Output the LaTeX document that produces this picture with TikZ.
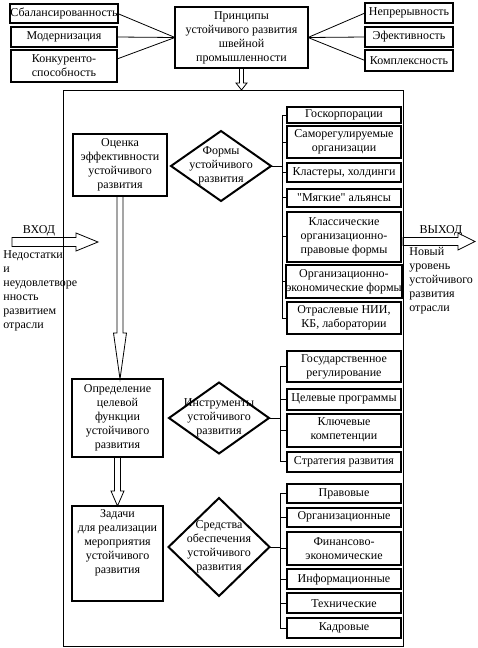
\documentclass[tikz,border=0pt]{standalone}
\usepackage{fontspec}
\setmainfont{Liberation Serif}
\usetikzlibrary{shapes.geometric, calc}

% hohle Pfeile: Start, Ziel, halbe Schaftbreite, halbe Kopfbreite, Kopflaenge
\newcommand{\hollowdown}[5]{%
  \draw let \p1=(#1), \p2=(#2) in
    (\x1-#3,\y1) -- (\x1-#3,\y2+#5) -- (\x1-#4,\y2+#5) -- (\x1,\y2)
    -- (\x1+#4,\y2+#5) -- (\x1+#3,\y2+#5) -- (\x1+#3,\y1);}
\newcommand{\hollowright}[5]{%
  \draw let \p1=(#1), \p2=(#2) in
    (\x1,\y1+#3) -- (\x2-#5,\y1+#3) -- (\x2-#5,\y1+#4) -- (\x2,\y1)
    -- (\x2-#5,\y1-#4) -- (\x2-#5,\y1-#3) -- (\x1,\y1-#3) -- cycle;}

\begin{document}
\begin{tikzpicture}[x=1pt, y=-1pt, line width=0.8pt,
    font=\fontsize{12}{14}\selectfont,
    block/.style={draw, line width=2pt, inner sep=0pt, outer sep=0pt, align=center},
    leftblock/.style={block, minimum width=106pt},
    rightblock/.style={block, minimum width=88pt},
    sideblock/.style={block, minimum width=114pt},
    romb/.style={draw, diamond, line width=2pt, inner sep=-20pt, outer sep=0pt, align=center}]
        \useasboundingbox (0,0) rectangle (478,648);
        % Rahmen
        \node[draw, minimum width=340pt, minimum height=556pt, inner sep=0pt, outer sep=0pt] (frame) at (233,368) {};
        % Prinzipien
        \node[block, minimum width=133pt, minimum height=61pt] (princ) at (241.5,37.5)
          {Принципы\\устойчивого развития\\швейной\\промышленности};
        \node[leftblock, minimum height=19pt] (bal) at (64,13.5) {Сбалансированность};
        \node[leftblock, minimum height=20pt] (mod) at (64,37) {Модернизация};
        \node[leftblock, minimum height=32pt] (konk) at (64,66) {Конкуренто-\\способность};
        \node[rightblock, minimum height=20pt] (nepr) at (409,13) {Непрерывность};
        \node[rightblock, minimum height=20pt] (eff) at (409,37) {Эфективность};
        \node[rightblock, minimum height=21pt] (kompl) at (409,60.5) {Комплексность};
        \draw (bal.east) -- (princ.west);
        \draw (mod.east) -- (princ.west);
        \draw ([yshift=7pt]konk.east) -- (princ.west);
        \draw (princ.east) -- (nepr.west);
        \draw (princ.east) -- (eff.west);
        \draw (princ.east) -- (kompl.west);
        \hollowdown{princ.south}{princ.south |- frame.north}{2pt}{5.5pt}{7pt}
        % linke Spalte
        \node[block, minimum width=94pt, minimum height=62pt] (ocenka) at (120,165)
          {Оценка\\эффективности\\устойчивого\\развития};
        \node[block, minimum width=91pt, minimum height=78pt] (opred) at (117.5,418)
          {Определение\\целевой\\функции\\устойчивого\\развития};
        \node[block, minimum width=91pt, minimum height=95pt, text depth=23pt] (zadachi) at (117.5,553.5)
          {Задачи\\для реализации\\мероприятия\\устойчивого\\развития};
        \hollowdown{ocenka.south}{opred.north}{3pt}{6.5pt}{46pt}
        \hollowdown{opred.south}{zadachi.north}{3pt}{6.5pt}{15pt}
        % Rauten
        \node[romb, minimum width=100pt, minimum height=70pt] (forms) at (221,166)
          {Формы\\устойчивого\\развития};
        \node[romb, minimum width=100pt, minimum height=71pt] (instr) at (219,418)
          {Инструменты\\устойчивого\\развития};
        \node[romb, minimum width=101pt, minimum height=98pt] (sredstva) at (219,547)
          {Средства\\обеспечения\\устойчивого\\развития};
        % Formen
        \node[sideblock, minimum height=16pt] (f1) at (344,115) {Госкорпорации};
        \node[sideblock, minimum height=32pt] (f2) at (344,142) {Саморегулируемые\\организации};
        \node[sideblock, minimum height=19pt] (f3) at (344,172.8) {Кластеры, холдинги};
        \node[sideblock, minimum height=18pt] (f4) at (344,197.5) {\textquotedbl Мягкие\textquotedbl\ альянсы};
        \node[sideblock, minimum height=50pt] (f5) at (344,236.7) {Классические\\организационно-\\правовые формы};
        \node[sideblock, minimum height=33pt] (f6) at (344,281.7) {Организационно-\\экономические формы};
        \node[sideblock, minimum height=32pt] (f7) at (344,318) {Отраслевые НИИ,\\КБ, лаборатории};
        \coordinate (fb) at ([xshift=-5pt]f1.west);
        \draw (f1.west) -- (fb) -- (fb |- f7.west) -- (f7.west);
        \foreach \n in {f2,f3,f4,f5,f6} \draw (\n.west) -- (fb |- \n.west);
        \draw (forms.east) -- (fb |- forms.east);
        % Instrumente
        \node[sideblock, minimum height=31pt] (i1) at (344,366.5) {Государственное\\регулирование};
        \node[sideblock, minimum height=21pt] (i2) at (344,399) {Целевые программы};
        \node[sideblock, minimum height=33pt] (i3) at (344,430) {Ключевые\\компетенции};
        \node[sideblock, minimum height=20pt] (i4) at (344,461.7) {Стратегия развития};
        \coordinate (ib) at ([xshift=-7pt]i1.west);
        \draw (i1.west) -- (ib) -- (ib |- i4.west) -- (i4.west);
        \foreach \n in {i2,i3} \draw (\n.west) -- (ib |- \n.west);
        \draw (instr.east) -- (ib |- instr.east);
        % Mittel
        \node[sideblock, minimum height=19pt] (s1) at (344,493.7) {Правовые};
        \node[sideblock, minimum height=19pt] (s2) at (344,517.2) {Организационные};
        \node[sideblock, minimum height=33pt] (s3) at (344,548.3) {Финансово-\\экономические};
        \node[sideblock, minimum height=20pt] (s4) at (344,579.3) {Информационные};
        \node[sideblock, minimum height=20pt] (s5) at (344,603.3) {Технические};
        \node[sideblock, minimum height=20pt] (s6) at (344,628.3) {Кадровые};
        \coordinate (sb) at ([xshift=-7pt]s1.west);
        \draw (s1.west) -- (sb) -- (sb |- s6.west) -- (s6.west);
        \foreach \n in {s2,s3,s4,s5} \draw (\n.west) -- (sb |- \n.west);
        \draw (sredstva.east) -- (sb |- sredstva.east);
        % Eingang
        \coordinate (inl) at (12,242);
        \coordinate (intip) at (98,242);
        \hollowright{inl}{intip}{4.5pt}{9pt}{22pt}
        \node[anchor=base] (vhod) at (39,233) {ВХОД};
        \node[anchor=north west, align=left, inner sep=0pt] (vhodtxt) at (3,250)
          {Недостатки\\и\\неудовлетворе\\нность\\развитием\\отрасли};
        % Ausgang
        \coordinate (outtip) at (475,241.5);
        \hollowright{frame.east |- outtip}{outtip}{4pt}{8.5pt}{17pt}
        \node[anchor=base] (vyhod) at (441,233) {ВЫХОД};
        \node[anchor=north west, align=left, inner sep=0pt] (vyhodtxt) at (409,247)
          {Новый\\уровень\\устойчивого\\развития\\отрасли};
      \end{tikzpicture}
\end{document}
